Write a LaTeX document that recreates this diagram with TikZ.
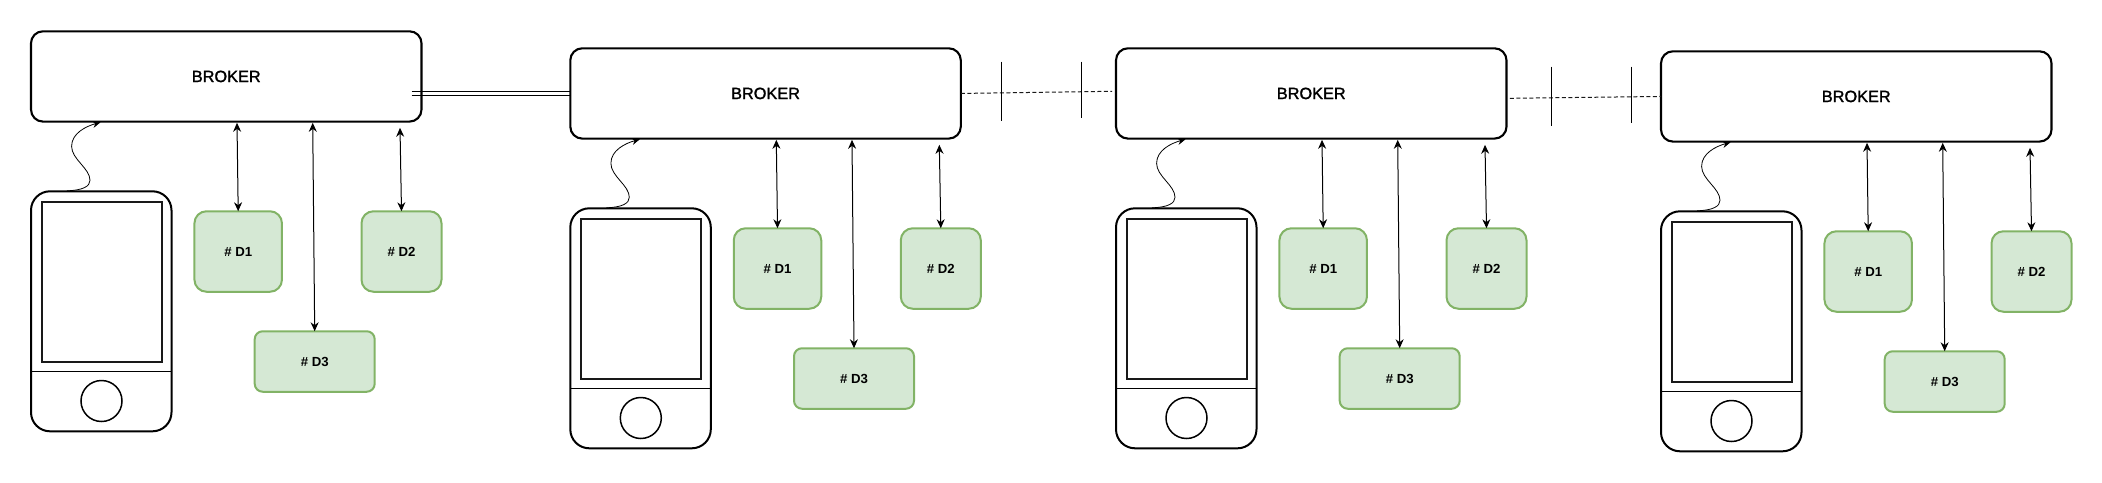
\documentclass[tikz,border=0pt]{standalone}
\usepackage{fontspec}
\setmainfont{Liberation Sans}
\newfontface\brokerfont{Liberation Sans}[FakeBold=1.6]
\usetikzlibrary{arrows.meta,shapes.geometric}
\definecolor{dgreen}{HTML}{82B366}
\definecolor{lgreen}{HTML}{D5E8D4}
\tikzset{
  broker/.style={draw=black,line width=2.1pt,rounded corners=12pt,minimum width=390.5pt,minimum height=90.3pt,inner sep=0pt,outer sep=0pt,font=\brokerfont\fontsize{16.3}{18}\selectfont},
  phonebody/.style={draw=black,line width=2pt,rounded corners=19pt,minimum width=140.5pt,minimum height=240pt,inner sep=0pt,outer sep=0pt},
  phonescreen/.style={draw=black!90,line width=2pt,minimum width=120pt,minimum height=160pt,inner sep=0pt,outer sep=0pt},
  phonebutton/.style={draw=black,line width=1.5pt,ellipse,minimum width=41pt,minimum height=41pt,inner sep=0pt,outer sep=0pt},
  device/.style={draw=dgreen,fill=lgreen,line width=2pt,inner sep=0pt,outer sep=0pt,font=\bfseries\fontsize{13.2}{15}\selectfont},
  link/.style={line width=1pt,draw=black,{Stealth[length=9pt,width=8pt]}-{Stealth[length=9pt,width=8pt]}},
  wave/.style={line width=0.8pt,-{Stealth[length=8pt,width=7pt]}},
  radio/.style={line width=1pt,dash pattern=on 4pt off 2.5pt,draw=black!90},
  tick/.style={line width=1pt},
}
\newcommand{\grp}[3]{%
  \def\gx{#2}\def\gy{#3}%
  \node[broker] (b#1) at (\gx+195.25,\gy+45.15) {BROKER};
  \node[phonebody] (p#1) at (\gx+70.25,\gy+280) {};
  \node[phonescreen] (s#1) at (\gx+70.5,\gy+250.4) {};
  \coordinate (dl#1) at (\gx,\gy+340);
  \coordinate (dr#1) at (\gx+140.5,\gy+340);
  \draw[line width=1.1pt] (dl#1) -- (dr#1);
  \node[phonebutton] (h#1) at (\gx+70.5,\gy+369.7) {};
  \node[device,rounded corners=12pt,minimum width=87.5pt,minimum height=80.5pt] (da#1) at (\gx+207.2,\gy+220.2) {\# D1};
  \node[device,rounded corners=12pt,minimum width=80pt,minimum height=80.5pt] (db#1) at (\gx+370.5,\gy+220.2) {\# D2};
  \node[device,rounded corners=8pt,minimum width=120pt,minimum height=60.5pt] (dc#1) at (\gx+283.7,\gy+330.2) {\# D3};
  \coordinate (ta#1) at (\gx+206,\gy+91.5);
  \coordinate (tc#1) at (\gx+281.7,\gy+91.5);
  \coordinate (tb#1) at (\gx+369,\gy+96.5);
  \draw[link] (ta#1) -- (da#1.north);
  \draw[link] (tc#1) -- (dc#1.north);
  \draw[link] (tb#1) -- (db#1.north);
  \coordinate (ws#1) at (\gx+36,\gy+159.5);
  \coordinate (we#1) at (\gx+69.5,\gy+91);
  \draw[wave] (ws#1) .. controls (\gx+52,\gy+159) and (\gx+59,\gy+155) .. (\gx+59,\gy+149)
    .. controls (\gx+59,\gy+137) and (\gx+40.6,\gy+128) .. (\gx+40.6,\gy+115)
    .. controls (\gx+40.6,\gy+102) and (\gx+55,\gy+95) .. (we#1);
}
\begin{document}
\begin{tikzpicture}[x=1pt,y=-1pt]
  \useasboundingbox (0,0) rectangle (2102,482);
  \grp{1}{31}{31.3}
  \grp{2}{570.3}{48.3}
  \grp{3}{1116}{48.3}
  \grp{4}{1661}{51.3}
  % double link
  \coordinate (du) at (411.7,91.7);
  \coordinate (dv) at (411.7,95);
  \draw[line width=1pt] (du) -- (du -| b2.west);
  \draw[line width=1pt] (dv) -- (dv -| b2.west);
  % dashed links
  \coordinate (e3) at (1112,91.3);
  \draw[radio] (b2.east) -- (e3);
  \coordinate (s4) at (1509.8,98.3);
  \draw[radio] (s4) -- (b4.west);
  % tick marks
  \coordinate (t1a) at (1001.5,61.7); \coordinate (t1b) at (1001.5,121);
  \coordinate (t2a) at (1081.5,61.7); \coordinate (t2b) at (1081.5,118);
  \coordinate (t3a) at (1551.5,66.7); \coordinate (t3b) at (1551.5,126);
  \coordinate (t4a) at (1631.5,66.7); \coordinate (t4b) at (1631.5,123.3);
  \draw[tick] (t1a) -- (t1b);
  \draw[tick] (t2a) -- (t2b);
  \draw[tick] (t3a) -- (t3b);
  \draw[tick] (t4a) -- (t4b);
\end{tikzpicture}
\end{document}
